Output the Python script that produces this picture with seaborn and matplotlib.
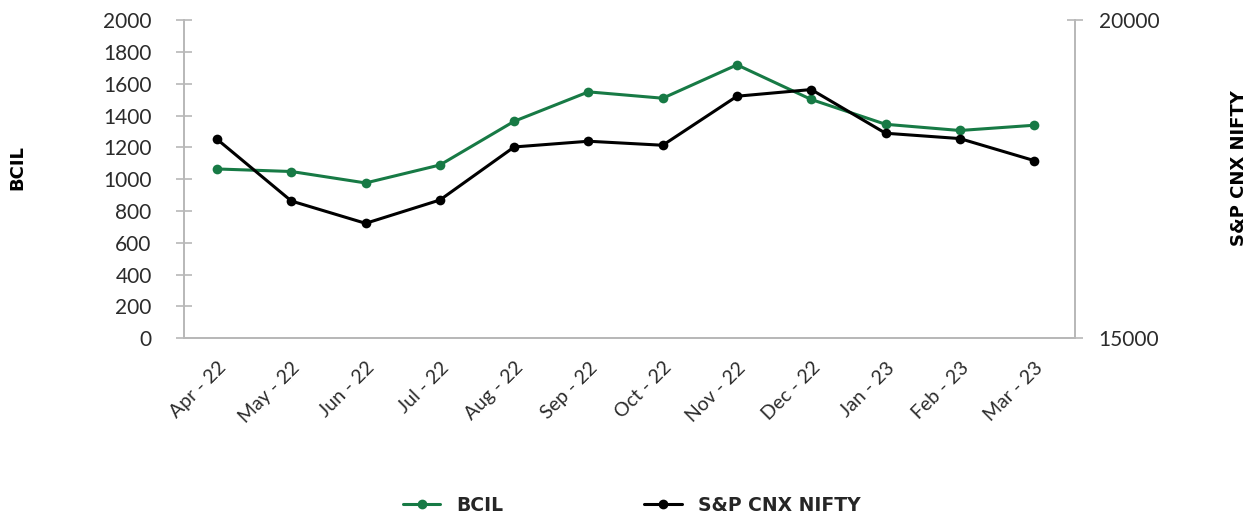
#BCIL vs S&P CNX NIFTY monthly chart

import pandas as pd
import matplotlib.pyplot as plt
import seaborn as sns
from matplotlib.lines import Line2D

months = ['Apr - 22', 'May - 22', 'Jun - 22', 'Jul - 22', 'Aug - 22', 'Sep - 22',
          'Oct - 22', 'Nov - 22', 'Dec - 22', 'Jan - 23', 'Feb - 23', 'Mar - 23']
bcil = [1064, 1048, 976, 1089, 1364, 1549, 1509, 1719, 1501, 1345, 1306, 1339]
nifty = [18127, 17156, 16805, 17172, 18006, 18096, 18033, 18804, 18909, 18222, 18138, 17792]
bcil_ticks = list(range(0, 2001, 200))
nifty_ticks = [15000, 20000]

GREEN = '#177a45'
GREY = '#b8b8b8'
TXT = '#2b2b2b'


def main():
    sns.set_style('white')
    plt.rcParams['font.family'] = ['Lato', 'DejaVu Sans']
    bold = {'family': 'DejaVu Sans', 'weight': 'bold', 'size': 13, 'color': 'black'}

    df = pd.DataFrame({'month': months, 'BCIL': bcil, 'NIFTY': nifty})
    df['pos'] = range(len(df))

    fig = plt.figure(figsize=(12.58, 5.17), dpi=100)
    ax = fig.add_axes([0.146, 0.346, 0.7085, 0.615])
    sns.lineplot(data=df, x='pos', y='BCIL', ax=ax, color=GREEN, marker='o',
                 markersize=7, markeredgewidth=0, linewidth=2.2, legend=False)
    ax2 = ax.twinx()
    sns.lineplot(data=df, x='pos', y='NIFTY', ax=ax2, color='black', marker='o',
                 markersize=7, markeredgewidth=0, linewidth=2.2, legend=False)

    n = len(months)
    ax.set_xlim(-0.45, n - 0.45)
    ax.set_xticks(range(n))
    ax.set_xticklabels(months, rotation=45, ha='right', rotation_mode='anchor',
                       fontsize=14, fontweight='normal')
    ax.set_xticks([i - 0.45 for i in range(n + 1)], minor=True)
    ax.tick_params(axis='x', which='major', length=0, pad=15, labelcolor=TXT)
    ax.tick_params(axis='x', which='minor', length=12, width=1.2, color=GREY, direction='inout')

    ax.set_ylim(0, 2000)
    ax.set_yticks(bcil_ticks)
    ax.set_yticklabels([str(t) for t in bcil_ticks], fontsize=15, fontweight='normal')
    ax.tick_params(axis='y', length=12, width=1.2, color=GREY, labelcolor=TXT,
                   direction='inout', pad=17)

    ax2.set_ylim(15000, 20000)
    ax2.set_yticks(nifty_ticks)
    ax2.set_yticklabels([str(t) for t in nifty_ticks], fontsize=15, fontweight='normal')
    ax2.tick_params(axis='y', length=12, width=1.2, color=GREY, labelcolor=TXT,
                    direction='inout', pad=11)

    for a in (ax, ax2):
        a.spines['top'].set_visible(False)
        for s in ('left', 'right', 'bottom'):
            a.spines[s].set_color(GREY)
            a.spines[s].set_linewidth(1.4)
        a.set_xlabel('')
    ax.spines['right'].set_visible(False)
    ax2.spines['left'].set_visible(False)

    ax.set_ylabel('BCIL', fontdict=bold)
    ax.yaxis.set_label_coords(-0.176, 0.535)
    ax2.set_ylabel('S&P CNX NIFTY', fontdict=bold)
    ax2.yaxis.set_label_coords(1.174, 0.535)

    handles = [Line2D([], [], color=GREEN, marker='o', markersize=6, linewidth=2.2),
               Line2D([], [], color='black', marker='o', markersize=6, linewidth=2.2)]
    fig.legend(handles, ['BCIL', 'S&P CNX NIFTY'], loc='center', bbox_to_anchor=(0.502, 0.023),
               ncol=2, frameon=False, handlelength=2.0, handletextpad=0.85, columnspacing=7.5,
               prop={'family': 'DejaVu Sans', 'weight': 'bold', 'size': 13.5})

    fig.savefig('out.png', dpi=100)


if __name__ == '__main__':
    main()
